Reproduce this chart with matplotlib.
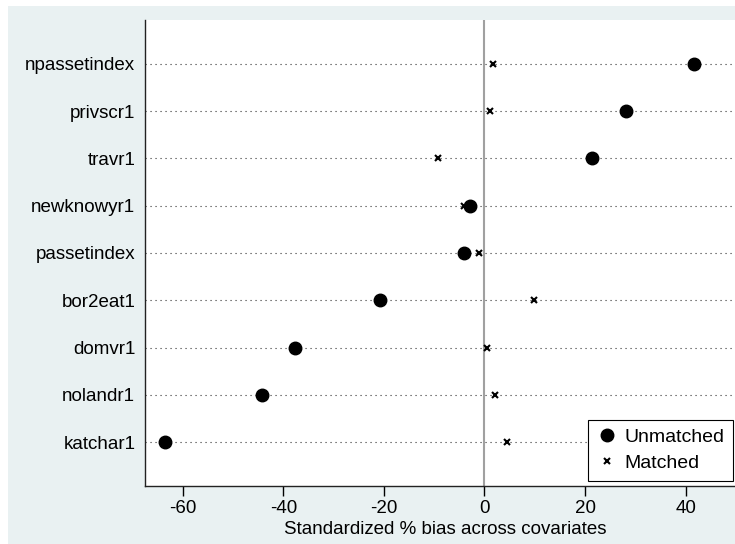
import matplotlib.pyplot as plt
from matplotlib.patches import Rectangle

plt.rcParams['font.family'] = ['Liberation Sans', 'DejaVu Sans']
plt.rcParams['axes.unicode_minus'] = False

covariates = ["katchar1", "nolandr1", "domvr1", "bor2eat1", "passetindex",
              "newknowyr1", "travr1", "privscr1", "npassetindex"]
unmatched = [-63.5, -44.2, -37.6, -20.7, -4.0, -2.8, 21.3, 28.1, 41.6]
matched = [4.4, 2.0, 0.6, 9.8, -1.0, -4.0, -9.2, 1.0, 1.6]
xticks = [-60, -40, -20, 0, 20, 40]

fig = plt.figure(figsize=(7.35, 5.44), dpi=100)
fig.patches.append(Rectangle((8 / 735, 0), 1, 1 - 6 / 544, transform=fig.transFigure,
                             facecolor="#e9f1f2", edgecolor="none", zorder=-1))

ax = fig.add_axes([145 / 735, 58 / 544, 600 / 735, 466 / 544])
ax.set_zorder(1)
ax.set_facecolor("white")

ypos = list(range(len(covariates)))
for y in ypos:
    ax.axhline(y, color="#333333", linestyle=(0, (1, 3.5)), linewidth=0.8, zorder=1)
ax.axvline(0, color="#a0a0a0", linewidth=1.5, zorder=1)

ax.plot(unmatched, ypos, "o", color="black", markersize=9, linestyle="none",
        label="Unmatched", zorder=3)
ax.plot(matched, ypos, "x", color="black", markersize=5, markeredgewidth=1.5,
        linestyle="none", label="Matched", zorder=3)

ax.set_xlim(-67.5, 51.8)
ax.set_ylim(-0.93, 8.93)
ax.set_xticks(xticks)
ax.set_yticks(ypos)
ax.set_yticklabels(covariates, fontsize=13.5)
ax.tick_params(axis="x", labelsize=13.5, length=7, width=1, direction="out", pad=3)
ax.tick_params(axis="y", length=0, pad=7)
ax.set_xlabel("Standardized % bias across covariates", fontsize=13.5, labelpad=3)

ax.spines["top"].set_visible(False)
ax.spines["right"].set_visible(False)
for side in ["left", "bottom"]:
    ax.spines[side].set_linewidth(1)
    ax.spines[side].set_color("#222222")

leg = ax.legend(loc="lower right", bbox_to_anchor=(733 / 735, (544 - 481) / 544),
                bbox_transform=fig.transFigure, fontsize=14, frameon=True,
                fancybox=False, edgecolor="black", framealpha=1,
                handletextpad=0.4, borderpad=0.45, labelspacing=0.45,
                handlelength=1.0, borderaxespad=0)
leg.get_frame().set_linewidth(0.8)

fig.savefig("out.png", dpi=100)
